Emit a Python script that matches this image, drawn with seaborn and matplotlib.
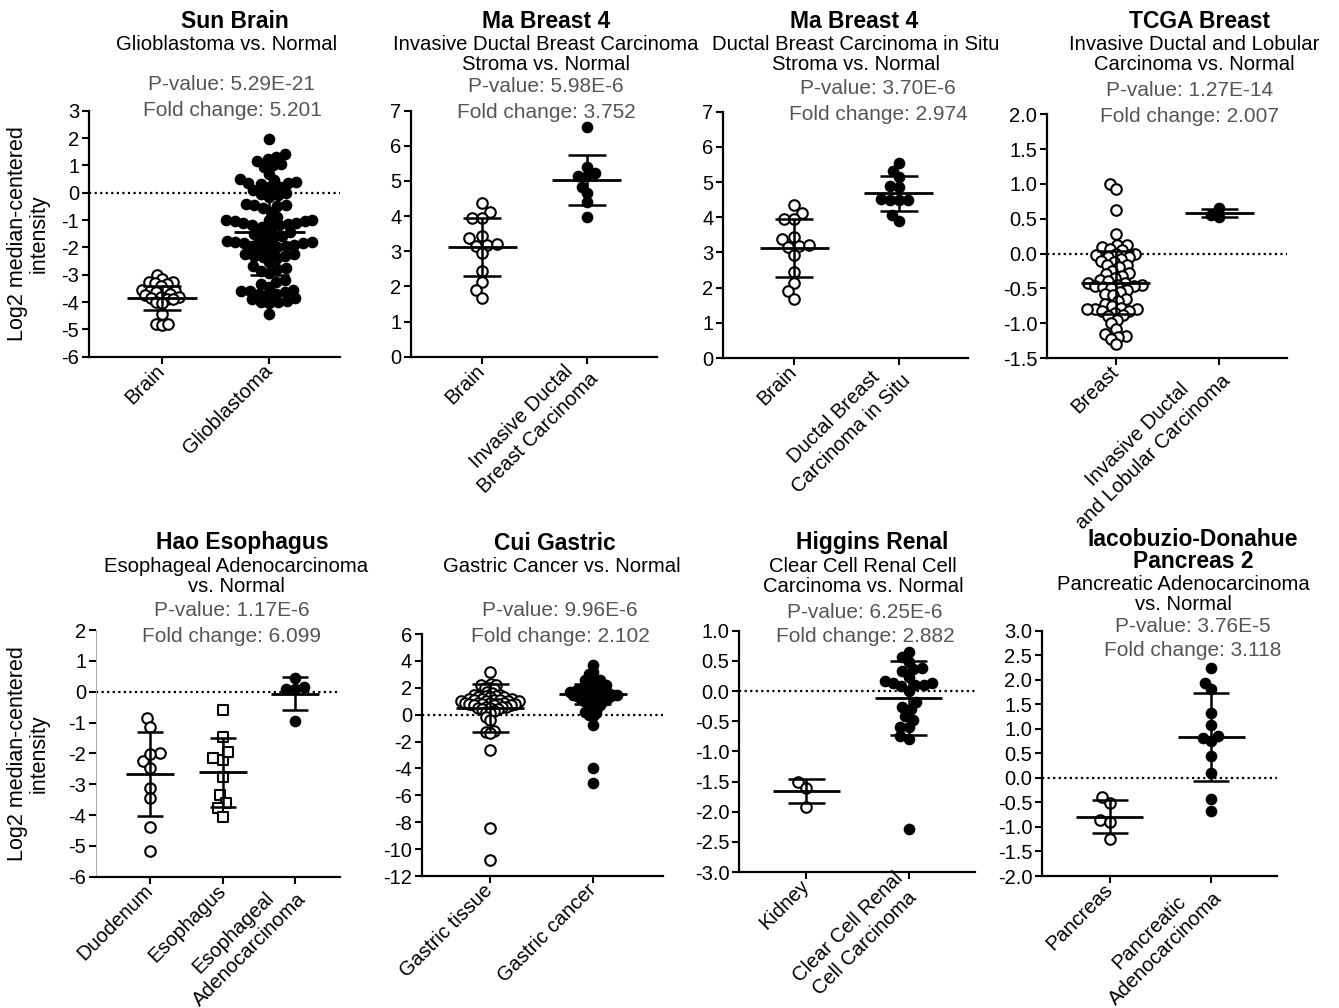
import warnings
warnings.filterwarnings("ignore")
import numpy as np
import pandas as pd
import matplotlib
matplotlib.use("Agg")
import matplotlib.pyplot as plt
from matplotlib.collections import PathCollection
import seaborn as sns

# ---------------- DATA ----------------
# Sun Brain
sun_brain = [-3.0, -3.15, -3.25, -3.25, -3.3, -3.35, -3.4, -3.55, -3.6, -3.6, -3.6, -3.65,
             -3.7, -3.75, -3.8, -3.8, -3.85, -3.9, -3.9, -4.0, -4.05, -4.45, -4.8, -4.85, -4.8]
sun_gbm = [1.95,
           1.3, 1.15, 1.05, 0.95, 1.0, 1.25, 1.4,
           0.7, 0.5, 0.4, 0.35, 0.3, 0.35, 0.45, 0.2, 0.2,
           0.1, 0.0, -0.05, -0.1, -0.15,
           -0.4, -0.45, -0.5, -0.45, -0.55, -0.7, -0.9,
           -1.0, -1.0, -1.05, -1.1, -1.15, -1.2, -1.1, -1.05, -1.0, -1.2, -1.25, -1.3,
           -1.45, -1.5, -1.55, -1.6, -1.65,
           -1.75, -1.8, -1.85, -1.85, -1.9, -1.95, -1.95, -1.9, -1.8, -1.75, -2.0, -2.05,
           -2.2, -2.25, -2.3, -2.3, -2.35, -2.4, -2.25,
           -2.55, -2.7, -2.75, -2.8, -2.85, -2.95,
           -3.2, -3.25, -3.35, -3.45,
           -3.55, -3.6, -3.65, -3.7, -3.75, -3.7, -3.6,
           -3.85, -3.9, -3.95, -4.0, -4.05, -4.0,
           -4.45]
# Ma Breast 4
ma_brain = [4.36, 4.13, 3.94, 3.94, 3.43, 3.37, 3.18, 3.15, 3.2, 2.94, 2.44, 2.13, 1.9, 1.68]
ma_idc = [6.53, 5.22, 5.14, 5.14, 5.39, 4.84, 4.65, 4.41, 3.97]
ma_dcis = [5.53, 5.32, 5.14, 4.89, 4.85, 4.52, 4.49, 4.49, 4.5, 4.05, 3.9]
# TCGA Breast
tcga_breast = [1.0, 0.93, 0.63, 0.28, 0.13, 0.12, 0.1, 0.07, 0.05, 0.0, 0.0, -0.02, -0.05, -0.05,
               -0.08, -0.1, -0.12, -0.17, -0.17, -0.2, -0.25, -0.28, -0.3, -0.32, -0.35, -0.38,
               -0.4, -0.42, -0.43, -0.45, -0.45, -0.46, -0.47, -0.48, -0.5, -0.52, -0.55, -0.58,
               -0.6, -0.65, -0.68, -0.72, -0.75, -0.78, -0.8, -0.8, -0.8, -0.82, -0.83, -0.85,
               -0.88, -0.9, -0.95, -1.0, -1.08, -1.15, -1.18, -1.2, -1.22, -1.3]
tcga_idlc = [0.65, 0.53, 0.56]
# Hao Esophagus
hao_duodenum = [-0.84, -1.14, -2.24, -2.0, -2.03, -2.46, -3.11, -3.46, -4.38, -5.16]
hao_esophagus = [-0.59, -1.46, -2.14, -2.22, -1.95, -2.76, -3.35, -3.6, -3.78, -4.05]
hao_ea = [0.43, 0.08, 0.08, 0.16, -0.95]
# Cui Gastric
cui_tissue = [3.2, 2.3, 2.2, 2.2, 2.0, 2.0, 1.9, 1.7, 1.6, 1.5, 1.5, 1.4, 1.4, 1.3, 1.3, 1.3,
              1.2, 1.2, 1.2, 1.1, 1.1, 1.1, 1.0, 1.0, 1.0, 1.0, 0.9, 0.9, 0.9, 0.9, 0.8, 0.8,
              0.8, 0.8, 0.7, 0.7, 0.7, 0.6, 0.6, 0.6, 0.5, 0.5, 0.4, 0.4, 0.3, 0.2, 0.1,
              -0.2, -0.4, -1.2, -1.3, -1.4, -2.6, -8.4, -10.8]
cui_cancer = [3.7, 3.2, 3.0, 2.8, 2.6, 2.6, 2.5, 2.4, 2.3, 2.2, 2.2, 2.1, 2.1, 2.0, 2.0, 1.9,
              1.9, 1.8, 1.8, 1.7, 1.7, 1.7, 1.6, 1.6, 1.6, 1.5, 1.5, 1.5, 1.5, 1.4, 1.4, 1.4,
              1.3, 1.3, 1.3, 1.2, 1.2, 1.1, 1.1, 1.0, 1.0, 0.9, 0.9, 0.8, 0.7, 0.6, 0.5, 0.4,
              0.2, 0.1, 0.0, -0.1, -0.8, -4.0, -5.1]
# Higgins Renal
hig_kidney = [-1.51, -1.61, -1.92]
hig_ccrcc = [0.65, 0.57, 0.48, 0.36, 0.33, 0.38, 0.24, 0.14, 0.1, 0.08, 0.1, 0.13, 0.17, 0.0,
             -0.19, -0.26, -0.3, -0.41, -0.48, -0.59, -0.6, -0.75, -0.8, -2.29]
# Iacobuzio-Donahue Pancreas 2
iac_pancreas = [-0.39, -0.51, -0.86, -0.9, -1.25]
iac_pa = [2.24, 1.94, 1.81, 1.33, 1.07, 0.82, 0.85, 0.75, 0.44, 0.1, -0.44, -0.68]

# mean and SD drawn in each panel
means = [[-3.85, -1.45], [3.13, 5.03], [3.13, 4.68], [-0.42, 0.58],
         [-2.68, -2.62, -0.06], [0.47, 1.55], [-1.66, -0.12], [-0.79, 0.84]]
sds = [[0.45, 1.55], [0.83, 0.72], [0.83, 0.5], [0.45, 0.06],
       [1.36, 1.12, 0.53], [1.79, 0.75], [0.2, 0.61], [0.34, 0.9]]

groups = [[sun_brain, sun_gbm], [ma_brain, ma_idc], [ma_brain, ma_dcis], [tcga_breast, tcga_idlc],
          [hao_duodenum, hao_esophagus, hao_ea], [cui_tissue, cui_cancer],
          [hig_kidney, hig_ccrcc], [iac_pancreas, iac_pa]]
cat_labels = [["Brain", "Glioblastoma"],
              ["Brain", "Invasive Ductal\nBreast Carcinoma"],
              ["Brain", "Ductal Breast\nCarcinoma in Situ"],
              ["Breast", "Invasive Ductal\nand Lobular Carcinoma"],
              ["Duodenum", "Esophagus", "Esophageal\nAdenocarcinoma"],
              ["Gastric tissue", "Gastric cancer"],
              ["Kidney", "Clear Cell Renal\nCell Carcinoma"],
              ["Pancreas", "Pancreatic\nAdenocarcinoma"]]
styles = [["open", "filled"], ["open", "filled"], ["open", "filled"], ["open", "filled"],
          ["open", "square", "filled"], ["open", "filled"], ["open", "filled"], ["open", "filled"]]

titles = ["Sun Brain", "Ma Breast 4", "Ma Breast 4", "TCGA Breast", "Hao Esophagus",
          "Cui Gastric", "Higgins Renal", "Iacobuzio-Donahue\nPancreas 2"]
subtitles = ["Glioblastoma vs. Normal",
             "Invasive Ductal Breast Carcinoma\nStroma vs. Normal",
             "Ductal Breast Carcinoma in Situ\nStroma vs. Normal",
             "Invasive Ductal and Lobular\nCarcinoma vs. Normal",
             "Esophageal Adenocarcinoma\nvs. Normal",
             "Gastric Cancer vs. Normal",
             "Clear Cell Renal Cell\nCarcinoma vs. Normal",
             "Pancreatic Adenocarcinoma\nvs. Normal"]
pvalues = ["5.29E-21", "5.98E-6", "3.70E-6", "1.27E-14", "1.17E-6", "9.96E-6", "6.25E-6", "3.76E-5"]
folds = ["5.201", "3.752", "2.974", "2.007", "6.099", "2.102", "2.882", "3.118"]

yticks = [[3, 2, 1, 0, -1, -2, -3, -4, -5, -6],
          [0, 1, 2, 3, 4, 5, 6, 7],
          [0, 1, 2, 3, 4, 5, 6, 7],
          [2.0, 1.5, 1.0, 0.5, 0.0, -0.5, -1.0, -1.5],
          [2, 1, 0, -1, -2, -3, -4, -5, -6],
          [6, 4, 2, 0, -2, -4, -6, -8, -10, -12],
          [1.0, 0.5, 0.0, -0.5, -1.0, -1.5, -2.0, -2.5, -3.0],
          [3.0, 2.5, 2.0, 1.5, 1.0, 0.5, 0.0, -0.5, -1.0, -1.5, -2.0]]
ytick_fmt = ["%d", "%d", "%d", "%.1f", "%d", "%d", "%.1f", "%.1f"]
zero_line = [True, False, False, True, True, True, True, True]

# ---------------- LAYOUT (pixels) ----------------
W, H = 1339, 1008
boxes = [(89, 340, 110.7, 356.7), (411, 657, 110.7, 356.7), (723, 968, 111.7, 358), (1047, 1287, 114.3, 358),
         (96, 340, 630, 876.7), (421.7, 662.7, 634, 876), (739, 975, 630.7, 872), (1042, 1277, 630.7, 876)]
xlims = [(-0.68, 1.66), (-0.68, 1.67), (-0.68, 1.66), (-0.66, 1.65),
         (-0.75, 2.62), (-0.665, 1.68), (-0.66, 1.65), (-0.67, 1.65)]
# swarm packing (collision size relative to drawn marker size), per group
packing = [[0.38, 0.72], [0.72, 0.72], [0.72, 0.72], [0.5, 0.72],
           [0.72, 0.72, 0.72], [0.22, 0.36], [0.72, 0.72], [0.72, 0.72]]
# text: x of title, x of subtitle, x of stats, y of title, y of subtitle, y of pvalue, y of fold
txt = [(235, 227, 232, 22, 45, 84, 111),
       (546, 546, 546, 22, 44, 86, 113),
       (854, 856, 878, 22, 44, 88, 114),
       (1200, 1194, 1190, 22, 44, 90, 117),
       (242, 236, 232, 543, 566, 610, 637),
       (555, 562, 560, 543, 566, 610, 637),
       (872, 863, 865, 543, 566, 612, 637),
       (1193, 1183, 1193, 540, 584, 626, 651)]

sns.set_theme(style="ticks")
plt.rcParams["font.family"] = ["Liberation Sans", "DejaVu Sans"]
plt.rcParams["axes.unicode_minus"] = False

fig = plt.figure(figsize=(W / 100, H / 100), dpi=100)
GRAY = "#555555"
LW = 1.8
swarm_sets = []

for k in range(8):
    l, r, t, b = boxes[k]
    ax = fig.add_axes([l / W, 1 - b / H, (r - l) / W, (b - t) / H])
    cats = cat_labels[k]
    for i, (vals, st) in enumerate(zip(groups[k], styles[k])):
        df = pd.DataFrame({"group": [cats[i]] * len(vals), "value": vals})
        if st == "filled":
            kw = dict(color="black", linewidth=0, marker="o"); sz = 8.4
        elif st == "square":
            kw = dict(color="white", edgecolor="black", linewidth=1.5, marker="s"); sz = 7.6
        else:
            kw = dict(color="white", edgecolor="black", linewidth=1.5, marker="o"); sz = 7.6
        before = set(id(c) for c in ax.collections)
        sns.swarmplot(data=df, x="group", y="value", order=cats, ax=ax,
                      size=sz * packing[k][i], zorder=3, warn_thresh=1.0, **kw)
        for c in ax.collections:
            if id(c) not in before and isinstance(c, PathCollection):
                swarm_sets.append((c, sz))
    # mean +/- SD
    for i, (m, s) in enumerate(zip(means[k], sds[k])):
        ax.vlines(i, m - s, m + s, color="black", lw=LW, zorder=5)
        ax.hlines([m - s, m + s], i - 0.18, i + 0.18, color="black", lw=LW, zorder=5)
        ax.hlines(m, i - 0.33, i + 0.33, color="black", lw=LW + 0.2, zorder=5)
    if zero_line[k]:
        ax.axhline(0, color="black", ls=(0, (1, 1.5)), lw=1.6, zorder=1)
    yt = yticks[k]
    ax.set_ylim(min(yt), max(yt))
    ax.set_yticks(yt)
    ax.set_yticklabels([ytick_fmt[k] % v for v in yt])
    ax.set_xlim(*xlims[k])
    ax.set_xticks(range(len(cats)))
    ax.set_xticklabels(cats, rotation=45, ha="right", va="center", linespacing=1.3,
                       rotation_mode="anchor", multialignment="center", fontsize=14.5)
    ax.set_xlabel("")
    ax.set_ylabel("")
    ax.tick_params(axis="both", direction="out", length=5, width=1.5, color="black",
                   labelcolor="black", pad=3)
    ax.tick_params(axis="y", labelsize=14.5, pad=2)
    ax.tick_params(axis="x", pad=3)
    sns.despine(ax=ax)
    for sp in ["left", "bottom"]:
        ax.spines[sp].set_linewidth(1.6)
        ax.spines[sp].set_color("black")
    ax.set_facecolor("none")
    if k == 4:
        ax.spines["left"].set_color("#aaaaaa")
        ax.spines["left"].set_linewidth(0.7)
    if k in (0, 4):
        ax.set_ylabel("Log2 median-centered\nintensity", fontsize=15.5, color="black",
                      linespacing=1.05)
        ax.yaxis.set_label_coords((50 - l) / (r - l), 0.5)

    # texts
    xt, xs, xp, yt_, ys, yp, yf = txt[k]
    for j, line in enumerate(titles[k].split("\n")):
        fig.text(xt / W, 1 - (yt_ + 22 * j) / H, line, ha="center", va="center",
                 fontsize=16.5, fontweight="bold", color="black")
    for j, line in enumerate(subtitles[k].split("\n")):
        fig.text(xs / W, 1 - (ys + 21 * j) / H, line, ha="center", va="center",
                 fontsize=14.6, color="black")
    fig.text(xp / W, 1 - yp / H, "P-value: " + pvalues[k], ha="center", va="center",
             fontsize=15, color=GRAY)
    fig.text(xp / W, 1 - yf / H, "Fold change: " + folds[k], ha="center", va="center",
             fontsize=15, color=GRAY)

# let seaborn compute the swarm layout, then draw the markers at full size
fig.canvas.draw()
for pc, sz in swarm_sets:
    if "draw" in pc.__dict__:
        del pc.draw
    pc.set_sizes([sz ** 2])

fig.savefig("out.png", dpi=100, facecolor="white")
